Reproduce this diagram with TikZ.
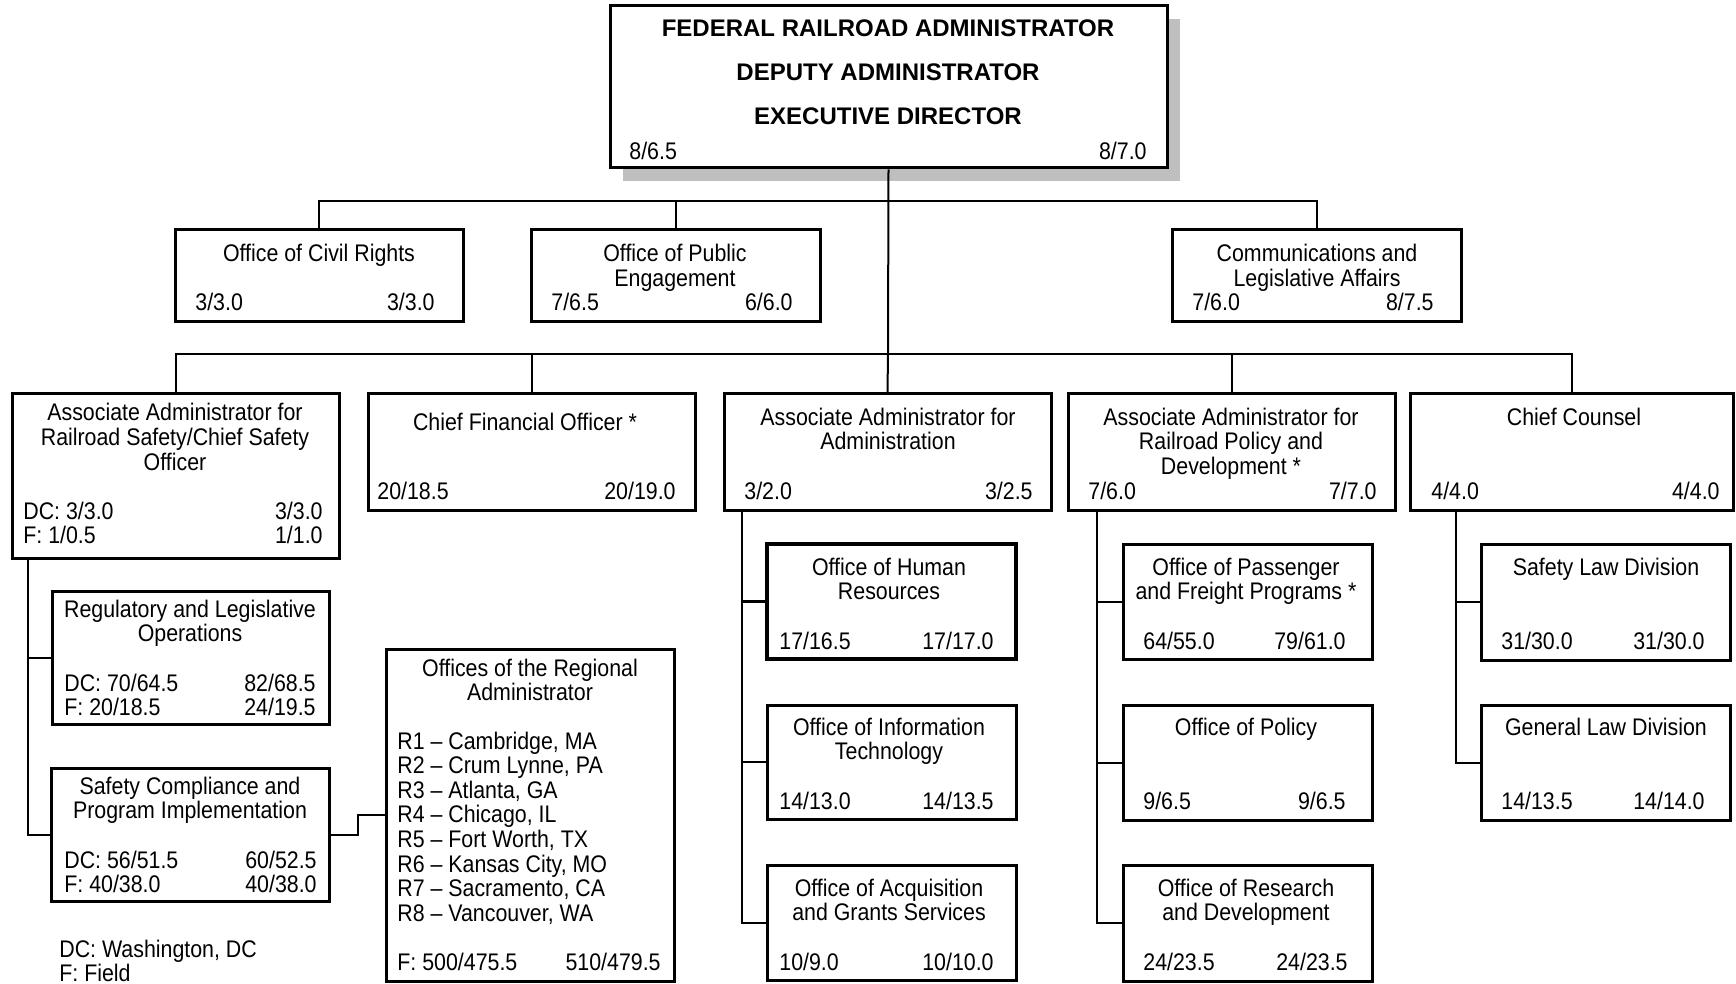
\documentclass[tikz,border=0pt]{standalone}
\usepackage{fontspec}
\setmainfont{Liberation Sans}
\newfontfamily\narrowfont{Liberation Sans}[FakeStretch=0.89,Ligatures=TeX]
\usetikzlibrary{fit}
\newcommand{\mlc}[1]{\begin{tabular}[t]{@{}c@{}}#1\end{tabular}}
\newcommand{\mll}[1]{\begin{tabular}[t]{@{}l@{}}#1\end{tabular}}
\newcommand{\mlr}[1]{\begin{tabular}[t]{@{}r@{}}#1\end{tabular}}
\definecolor{shadowgray}{HTML}{BFBFBF}
\begin{document}
\begin{tikzpicture}[x=0.5pt,y=-0.5pt,
  box/.style={draw, line width=1.5pt, fill=white, inner sep=0pt},
  thickbox/.style={box, line width=1.75pt},
  conn/.style={line width=1pt},
  thickconn/.style={line width=1.5pt},
  lbl/.style={inner sep=0pt, anchor=base, font=\fontsize{12}{12.25}\selectfont\narrowfont},
  lbll/.style={lbl, anchor=base west},
  lblr/.style={lbl, anchor=base east},
  head/.style={inner sep=0pt, anchor=base, font=\fontsize{12}{12.25}\selectfont\bfseries}]
\useasboundingbox (0,0) rectangle (1736,984);

% ---------- top box ----------
\node[fill=shadowgray, inner sep=0pt, fit={(623,19) (1180,181)}] (topshadow) {};
\node[box, fit={(610,6) (1167,168)}] (top) {};
\node[head] (t1) at (888,37) {FEDERAL RAILROAD ADMINISTRATOR};
\node[head] (t2) at (888,81) {DEPUTY ADMINISTRATOR};
\node[head] (t3) at (888,125) {EXECUTIVE DIRECTOR};
\node[lbll] (tl) at (629,160) {8/6.5};
\node[lblr] (tr) at (1147,160) {8/7.0};

% ---------- row 2 ----------
\node[box, fit={(175,230) (463,322)}] (civil) {};
\node[lbl] (civilt) at (319,262) {Office of Civil Rights};
\node[lbll] (civill) at (195,311) {3/3.0};
\node[lblr] (civilr) at (435,311) {3/3.0};

\node[box, fit={(531,230) (820,322)}] (pub) {};
\node[lbl] (pubt) at (675,262) {\mlc{Office of Public\\Engagement}};
\node[lbll] (publ) at (551,311) {7/6.5};
\node[lblr] (pubr) at (793,311) {6/6.0};

\node[box, fit={(1172,230) (1461,322)}] (comm) {};
\node[lbl] (commt) at (1317,262) {\mlc{Communications and\\Legislative Affairs}};
\node[lbll] (comml) at (1192,311) {7/6.0};
\node[lblr] (commr) at (1434,311) {8/7.5};

% ---------- row 3 ----------
\node[box, fit={(12,394) (339,558)}] (safety) {};
\node[lbl] (safetyt) at (175,421) {\mlc{Associate Administrator for\\Railroad Safety/Chief Safety\\Officer}};
\node[lbll] (safetyl) at (23,519) {\mll{DC: 3/3.0\\F: 1/0.5}};
\node[lblr] (safetyr) at (323,519) {\mlr{3/3.0\\1/1.0}};

\node[box, fit={(368,394) (695,510)}] (cfo) {};
\node[lbl] (cfot) at (525,430) {Chief Financial Officer *};
\node[lbll] (cfol) at (377,499) {20/18.5};
\node[lblr] (cfor) at (676,499) {20/19.0};

\node[box, fit={(724,394) (1051,510)}] (admin) {};
\node[lbl] (admint) at (888,425) {\mlc{Associate Administrator for\\Administration}};
\node[lbll] (adminl) at (744,499) {3/2.0};
\node[lblr] (adminr) at (1033,499) {3/2.5};

\node[box, fit={(1068,394) (1395,510)}] (policy) {};
\node[lbl] (policyt) at (1231,425) {\mlc{Associate Administrator for\\Railroad Policy and\\Development *}};
\node[lbll] (policyl) at (1088,499) {7/6.0};
\node[lblr] (policyr) at (1377,499) {7/7.0};

\node[box, fit={(1410,394) (1733,510)}] (counsel) {};
\node[lbl] (counselt) at (1574,425) {Chief Counsel};
\node[lbll] (counsell) at (1431,499) {4/4.0};
\node[lblr] (counselr) at (1720,499) {4/4.0};

% ---------- safety subs ----------
\node[box, fit={(52,591) (329,724)}] (reg) {};
\node[lbl] (regt) at (190,617) {\mlc{Regulatory and Legislative\\Operations}};
\node[lbll] (regl) at (64,691) {\mll{DC: 70/64.5\\F: 20/18.5}};
\node[lblr] (regr) at (316,691) {\mlr{82/68.5\\24/19.5}};

\node[box, fit={(51,768) (329,901)}] (comp) {};
\node[lbl] (compt) at (190,794) {\mlc{Safety Compliance and\\Program Implementation}};
\node[lbll] (compl) at (64,868) {\mll{DC: 56/51.5\\F: 40/38.0}};
\node[lblr] (compr) at (317,868) {\mlr{60/52.5\\40/38.0}};

\node[box, fit={(386,649) (674,981)}] (regional) {};
\node[lbl] (regionalt) at (530,676) {\mlc{Offices of the Regional\\Administrator}};
\node[lbll] (regionall) at (397,749) {\mll{R1 – Cambridge, MA\\R2 – Crum Lynne, PA\\R3 – Atlanta, GA\\R4 – Chicago, IL\\R5 – Fort Worth, TX\\R6 – Kansas City, MO\\R7 – Sacramento, CA\\R8 – Vancouver, WA}};
\node[lbll] (regionalfl) at (397,970) {F: 500/475.5};
\node[lblr] (regionalfr) at (661,970) {510/479.5};

\node[lbll] (legend1) at (59,957) {DC: Washington, DC};
\node[lbll] (legend2) at (59,981) {F: Field};

% ---------- administration subs ----------
\node[thickbox, fit={(767,544) (1016,659)}] (hr) {};
\node[lbl] (hrt) at (889,575) {\mlc{Office of Human\\Resources}};
\node[lbll] (hrl) at (779,649) {17/16.5};
\node[lblr] (hrr) at (994,649) {17/17.0};

\node[box, fit={(767,705) (1016,819)}] (it) {};
\node[lbl] (itt) at (889,735) {\mlc{Office of Information\\Technology}};
\node[lbll] (itl) at (779,809) {14/13.0};
\node[lblr] (itr) at (994,809) {14/13.5};

\node[box, fit={(767,865) (1016,980)}] (acq) {};
\node[lbl] (acqt) at (889,896) {\mlc{Office of Acquisition\\and Grants Services}};
\node[lbll] (acql) at (779,970) {10/9.0};
\node[lblr] (acqr) at (994,970) {10/10.0};

% ---------- policy subs ----------
\node[box, fit={(1123,544) (1372,659)}] (pass) {};
\node[lbl] (passt) at (1246,575) {\mlc{Office of Passenger\\and Freight Programs *}};
\node[lbll] (passl) at (1143,649) {64/55.0};
\node[lblr] (passr) at (1346,649) {79/61.0};

\node[box, fit={(1123,705) (1372,820)}] (pol) {};
\node[lbl] (polt) at (1246,735) {Office of Policy};
\node[lbll] (poll) at (1143,809) {9/6.5};
\node[lblr] (polr) at (1346,809) {9/6.5};

\node[box, fit={(1123,865) (1372,981)}] (rd) {};
\node[lbl] (rdt) at (1246,896) {\mlc{Office of Research\\and Development}};
\node[lbll] (rdl) at (1143,970) {24/23.5};
\node[lblr] (rdr) at (1348,970) {24/23.5};

% ---------- counsel subs ----------
\node[box, fit={(1481,544) (1730,660)}] (sl) {};
\node[lbl] (slt) at (1606,575) {Safety Law Division};
\node[lbll] (sll) at (1501,649) {31/30.0};
\node[lblr] (slr) at (1705,649) {31/30.0};

\node[box, fit={(1481,705) (1730,820)}] (gl) {};
\node[lbl] (glt) at (1606,735) {General Law Division};
\node[lbll] (gll) at (1501,809) {14/13.5};
\node[lblr] (glr) at (1705,809) {14/14.0};

% ---------- connectors ----------
\coordinate (bar2) at (888,201);
\coordinate (bar3) at (888,354);
\coordinate (sx) at (28,0);
\coordinate (rx) at (358,0);
\coordinate (ax) at (742,0);
\coordinate (px) at (1097,0);
\coordinate (cx) at (1456,0);

\draw[conn] (top.south) -- (bar3) -- (admin.north);
\draw[conn] (civil.north) -- (civil.north |- bar2) -| (comm.north);
\draw[conn] (pub.north) -- (pub.north |- bar2);
\draw[conn] (safety.north) -- (safety.north |- bar3) -| (counsel.north);
\draw[conn] (cfo.north) -- (cfo.north |- bar3);
\draw[conn] (policy.north) -- (policy.north |- bar3);

\draw[conn] (sx |- safety.south) |- (comp.west);
\draw[conn] (sx |- reg.west) -- (reg.west);
\draw[conn] (comp.east) -- (rx |- comp.east) |- (regional.west);

\draw[conn] (ax |- admin.south) |- (acq.west);
\draw[thickconn] (ax |- hr.west) -- (hr.west);
\draw[conn] (ax |- it.west) -- (it.west);

\draw[conn] (px |- policy.south) |- (rd.west);
\draw[conn] (px |- pass.west) -- (pass.west);
\draw[conn] (px |- pol.west) -- (pol.west);

\draw[conn] (cx |- counsel.south) |- (gl.west);
\draw[conn] (cx |- sl.west) -- (sl.west);
\end{tikzpicture}
\end{document}
